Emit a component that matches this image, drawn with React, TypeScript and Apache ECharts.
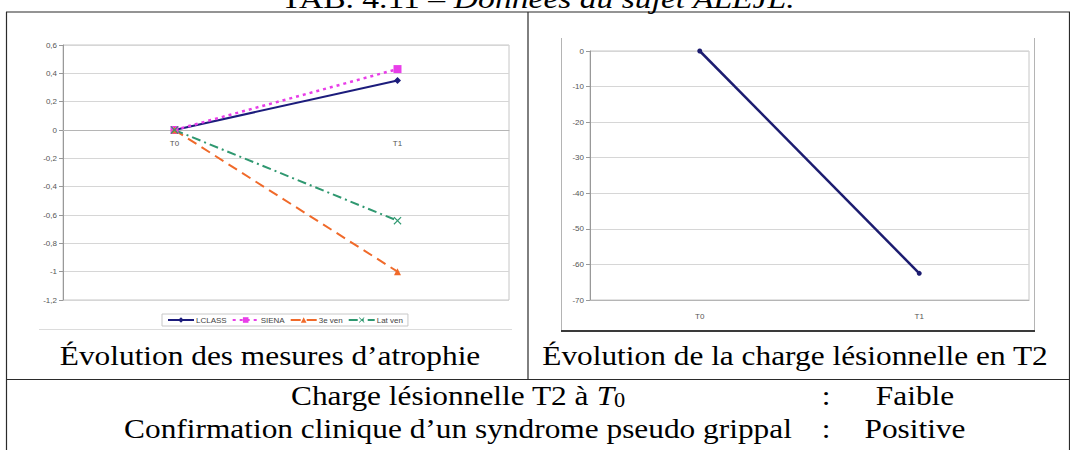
import React, { useEffect, useRef } from "react";
import * as echarts from "echarts";

// ---- data ----
const categories = ["T0", "T1"];
const lclass = [0, 0.35];
const siena = [0, 0.43];
const troisVen = [0, -1.0];
const latVen = [0, -0.64];
const chargeT2 = [0, -62.5];

const legendNames = ["LCLASS", "SIENA", "3e ven", "Lat ven"];
const atrophyAxis = { min: -1.2, max: 0.6, interval: 0.2 };
const chargeAxis = { min: -70, max: 0, interval: 10 };

const tableTitleA = "TAB. 4.11 – ";
const tableTitleB = "Données du sujet ALEJL.";
const captions = ["Évolution des mesures d’atrophie", "Évolution de la charge lésionnelle en T2"];
const rowLabels = ["Charge lésionnelle T2 à ", "Confirmation clinique d’un syndrome pseudo grippal"];
const rowValues = ["Faible", "Positive"];

// ---- styling ----
const SERIF = "Liberation Serif";
const SANS = "Liberation Sans";
const FS = 28;
const SX = 1.12;
const LINE = "#2b2b2b";
const AXIS_LABEL = { fontSize: 8, color: "#555", fontFamily: SANS };

const crossSymbol = "path://M0,1L1,0L5,4L9,0L10,1L6,5L10,9L9,10L5,6L1,10L0,9L4,5Z";

// left grid geometry: the category axis sits on the value 0
const G0 = { left: 63, top: 45, width: 446, height: 255 };
const zeroOffset = -(G0.height * (0 - atrophyAxis.min)) / (atrophyAxis.max - atrophyAxis.min);

function serifText(x: number, y: number, text: string, rich?: any, sx = SX) {
  const style: any = {
    text,
    fontFamily: SERIF,
    fontSize: FS,
    fill: "#000",
    align: "center",
    textAlign: "center",
    verticalAlign: "middle",
    textVerticalAlign: "middle",
  };
  if (rich) style.rich = rich;
  return { type: "text", x, y, scaleX: sx, style, z: 10 };
}

function hline(x1: number, x2: number, y: number, color = LINE, w = 1) {
  return { type: "line", shape: { x1, y1: y, x2, y2: y }, style: { stroke: color, lineWidth: w }, z: 5 };
}
function vline(x: number, y1: number, y2: number, color = LINE, w = 1) {
  return { type: "line", shape: { x1: x, y1, x2: x, y2 }, style: { stroke: color, lineWidth: w }, z: 5 };
}

const fmtComma = (v: number) => {
  const r = Math.round(v * 10) / 10;
  return r === 0 ? "0" : String(r).replace(".", ",");
};

export default function App() {
  const ref = useRef<HTMLDivElement>(null);

  useEffect(() => {
    if (!ref.current) return;
    const chart = echarts.init(ref.current, null, { renderer: "svg" });

    const richBase = { fontFamily: SERIF, fontSize: FS, fill: "#000", color: "#000" };
    const rowCenter = 458;
    const colonX = 826;
    const valueX = 915;

    const option: any = {
      animation: false,
      backgroundColor: "#fff",
      grid: [
        { ...G0, show: true, borderColor: "#c6c6c6", borderWidth: 1, backgroundColor: "transparent" },
        { left: 590, top: 51, width: 439, height: 249, show: true, borderColor: "#c6c6c6", borderWidth: 1, backgroundColor: "transparent" },
      ],
      xAxis: [
        {
          gridIndex: 0,
          type: "category",
          data: categories,
          boundaryGap: true,
          position: "bottom",
          offset: zeroOffset,
          axisLine: { show: true, onZero: false, lineStyle: { color: "#b5b5b5" } },
          axisTick: { show: false },
          axisLabel: { ...AXIS_LABEL, margin: 9 },
          splitLine: { show: false },
        },
        {
          gridIndex: 1,
          type: "category",
          data: categories,
          boundaryGap: true,
          position: "bottom",
          axisLine: { onZero: false, lineStyle: { color: "#b5b5b5" } },
          axisTick: { show: false },
          axisLabel: { ...AXIS_LABEL, margin: 12 },
          splitLine: { show: false },
        },
      ],
      yAxis: [
        {
          gridIndex: 0,
          type: "value",
          min: atrophyAxis.min,
          max: atrophyAxis.max,
          interval: atrophyAxis.interval,
          axisLine: { show: true, lineStyle: { color: "#999" } },
          axisTick: { show: true, length: 4, lineStyle: { color: "#999" } },
          axisLabel: { ...AXIS_LABEL, margin: 6, formatter: fmtComma },
          splitLine: { show: true, lineStyle: { color: "#d6d6d6" } },
        },
        {
          gridIndex: 1,
          type: "value",
          min: chargeAxis.min,
          max: chargeAxis.max,
          interval: chargeAxis.interval,
          axisLine: { show: true, lineStyle: { color: "#999" } },
          axisTick: { show: true, length: 4, lineStyle: { color: "#999" } },
          axisLabel: { ...AXIS_LABEL, margin: 6 },
          splitLine: { show: true, lineStyle: { color: "#d6d6d6" } },
        },
      ],
      legend: {
        data: legendNames,
        left: 162,
        top: 314,
        orient: "horizontal",
        itemWidth: 26,
        itemHeight: 7,
        itemGap: 5,
        padding: [2, 5],
        borderColor: "#c8c8c8",
        borderWidth: 1,
        backgroundColor: "#fff",
        textStyle: { fontSize: 8, color: "#444", fontFamily: SANS, padding: [0, 0, 0, -3] },
      },
      series: [
        {
          name: "LCLASS",
          type: "line",
          xAxisIndex: 0,
          yAxisIndex: 0,
          data: lclass,
          color: "#1c1c7c",
          symbol: "diamond",
          symbolSize: 7,
          lineStyle: { width: 2, type: "solid" },
        },
        {
          name: "SIENA",
          type: "line",
          xAxisIndex: 0,
          yAxisIndex: 0,
          data: siena,
          color: "#e83ee8",
          symbol: "rect",
          symbolSize: 8,
          lineStyle: { width: 2.5, type: [3, 4] },
        },
        {
          name: "3e ven",
          type: "line",
          xAxisIndex: 0,
          yAxisIndex: 0,
          data: troisVen,
          color: "#f06a2a",
          symbol: "triangle",
          symbolSize: 7,
          lineStyle: { width: 2, type: [10, 6] },
        },
        {
          name: "Lat ven",
          type: "line",
          xAxisIndex: 0,
          yAxisIndex: 0,
          data: latVen,
          color: "#2f9870",
          symbol: crossSymbol,
          symbolSize: 8,
          lineStyle: { width: 2, type: [9, 4, 2, 4] },
        },
        {
          name: "Charge T2",
          type: "line",
          xAxisIndex: 1,
          yAxisIndex: 1,
          data: chargeT2,
          color: "#1c1c70",
          symbol: "circle",
          symbolSize: 5,
          lineStyle: { width: 2.5 },
        },
      ],
      graphic: [
        // left chart image bottom edge
        hline(39, 512, 329.5, "#dcdcdc", 1),
        // right chart image frame
        vline(561.5, 38, 331, "#b4b4b4", 1),
        vline(1034.5, 38, 331, "#b4b4b4", 1),
        hline(561, 1035, 331, "#3a3a3a", 2),
        // table rules
        hline(6, 1070, 12, LINE, 1.2),
        vline(6.5, 12, 450, LINE, 1.2),
        vline(528, 12, 379.5, LINE, 1.2),
        hline(6, 1070, 379.5, LINE, 1.2),
        vline(1069.5, 12, 450, LINE, 1.2),
        // table title (cut at the top, as in the source page)
        serifText(538, -1.5, `{a|${tableTitleA}}{b|${tableTitleB}}`, {
          a: { ...richBase },
          b: { ...richBase, fontStyle: "italic" },
        }, 1.2),
        // captions
        serifText(270, 355.5, captions[0]),
        serifText(795, 355.5, captions[1]),
        // rows
        serifText(rowCenter, 396, `{n|${rowLabels[0]}}{i|T}{s|0}`, {
          n: { ...richBase, lineHeight: 28 },
          i: { ...richBase, fontStyle: "italic", lineHeight: 28 },
          s: { ...richBase, fontSize: 20, lineHeight: 14, verticalAlign: "bottom" },
        }),
        serifText(rowCenter, 428.5, rowLabels[1]),
        serifText(colonX, 396, ":"),
        serifText(colonX, 428.5, ":"),
        serifText(valueX, 396, rowValues[0]),
        serifText(valueX, 428.5, rowValues[1]),
      ],
    };

    chart.setOption(option);
    return () => chart.dispose();
  }, []);

  return (
    <div
      ref={ref}
      style={{ position: "fixed", left: 0, top: 0, width: 1070, height: 450, background: "#fff" }}
    />
  );
}
